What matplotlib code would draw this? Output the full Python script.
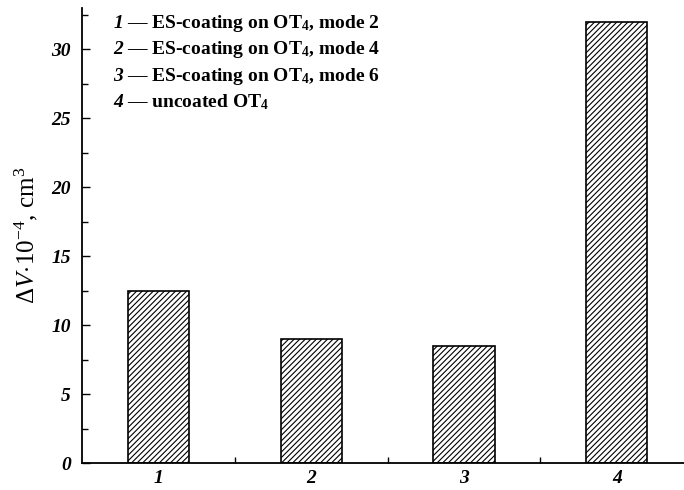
import numpy as np
import matplotlib
matplotlib.use("Agg")
import matplotlib.pyplot as plt
from matplotlib.ticker import MultipleLocator, FixedLocator

# data
samples = [1, 2, 3, 4]
dV = [12.5, 9.0, 8.5, 32.0]
tickLabels = ["1", "2", "3", "4"]
legendNums = ["1", "2", "3", "4"]
legendTexts = [r"— ES-coating on OT$_\mathbf{4}$, mode 2",
               r"— ES-coating on OT$_\mathbf{4}$, mode 4",
               r"— ES-coating on OT$_\mathbf{4}$, mode 6",
               r"— uncoated OT$_\mathbf{4}$"]

plt.rcParams["font.family"] = ["Liberation Serif", "DejaVu Serif"]
plt.rcParams["mathtext.fontset"] = "custom"
plt.rcParams["mathtext.rm"] = "Liberation Serif"
plt.rcParams["mathtext.it"] = "Liberation Serif:italic"
plt.rcParams["mathtext.bf"] = "Liberation Serif:bold"
plt.rcParams["hatch.linewidth"] = 0.8

fig = plt.figure(figsize=(6.84, 4.9), dpi=100)
ax = fig.add_axes([0.12, 0.055, 0.88, 0.929])

ax.bar(samples, dV, width=0.4, color="white", edgecolor="black", hatch="//////", linewidth=1.2)

ax.set_xlim(0.5, 4.44)
ax.set_ylim(0, 33)
ax.spines["top"].set_visible(False)
ax.spines["right"].set_visible(False)
ax.spines["left"].set_linewidth(1.3)
ax.spines["bottom"].set_linewidth(1.3)

ax.set_xticks(samples)
ax.set_xticklabels(tickLabels, fontstyle="italic", fontweight="bold", fontsize=14)
ax.xaxis.set_minor_locator(FixedLocator([1.5, 2.5, 3.5]))
ax.yaxis.set_major_locator(MultipleLocator(5))
ax.yaxis.set_minor_locator(MultipleLocator(2.5))
for lab in ax.get_yticklabels():
    lab.set_fontstyle("italic")
    lab.set_fontweight("bold")
    lab.set_fontsize(14)
ax.tick_params(which="both", direction="in", width=1)
ax.tick_params(which="major", length=6)
ax.tick_params(which="minor", length=4)
ax.tick_params(axis="x", which="major", length=0, pad=5)
ax.tick_params(axis="y", pad=8)

ax.set_ylabel(r"$\Delta V\!\cdot\!10^{-4}$, cm$^3$", fontsize=18, labelpad=8)

for i in range(len(legendNums)):
    y = 0.966 - i * 0.058
    ax.text(0.052, y, legendNums[i], transform=ax.transAxes, fontsize=14,
            fontstyle="italic", fontweight="bold", va="center")
    ax.text(0.074, y, legendTexts[i], transform=ax.transAxes, fontsize=14,
            fontweight="bold", va="center")

fig.savefig("out.png", dpi=100)
